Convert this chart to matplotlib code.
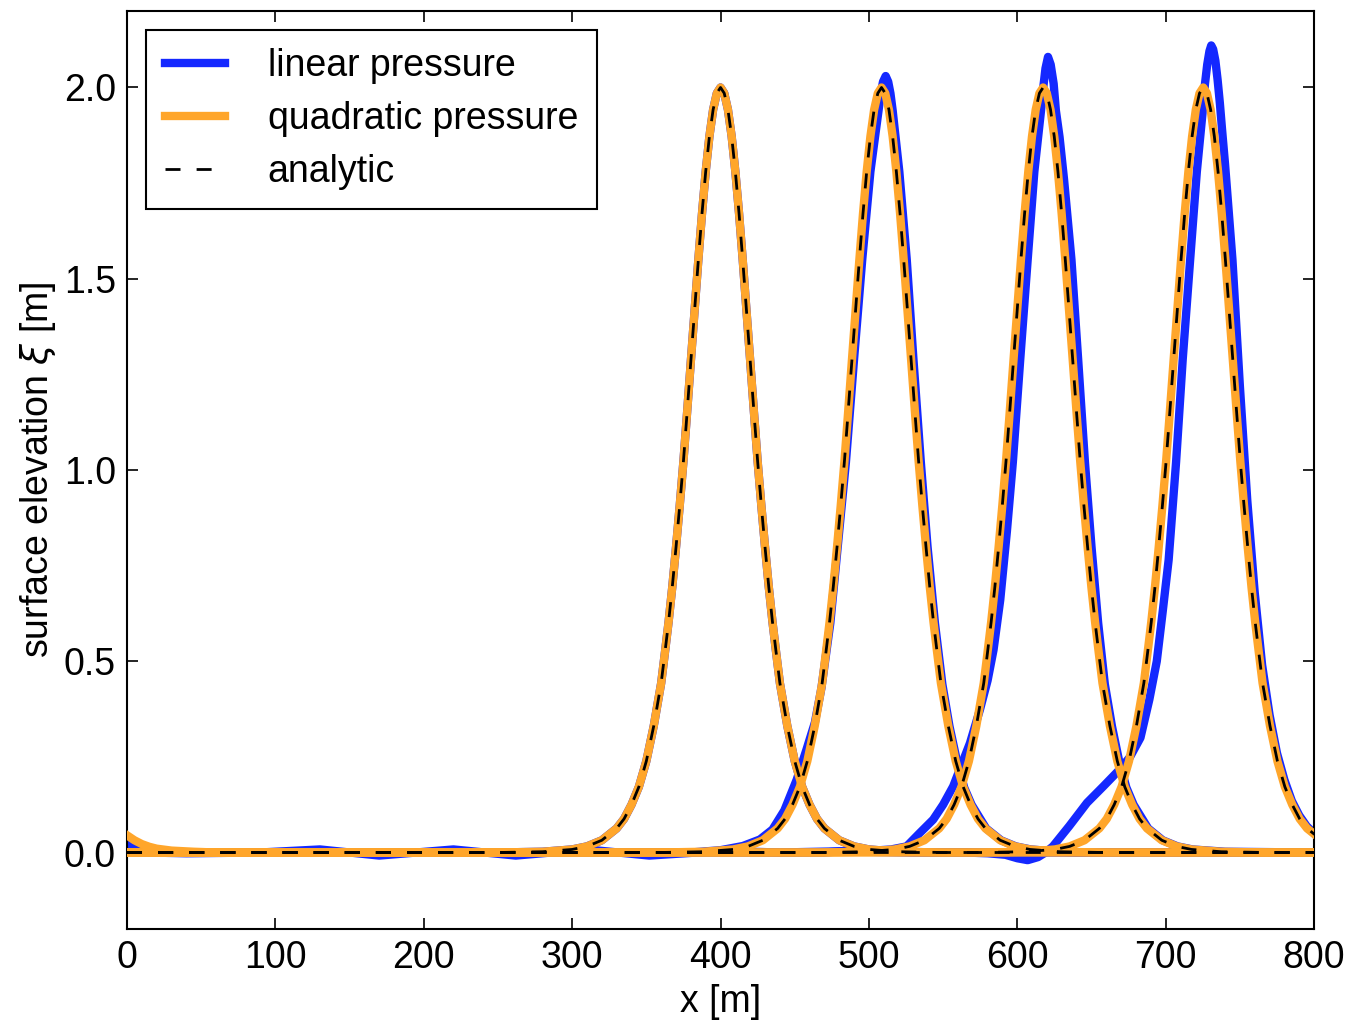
import numpy as np
import matplotlib
matplotlib.use("Agg")
import matplotlib.pyplot as plt

# ---------------- data ----------------
# solitary-wave profile (offset from crest [m], elevation [m]) – analytic / quadratic pressure
PROFILE_DX = [0, 2.5, 5, 7.5, 10, 12.5, 15, 17.5, 20, 22.5, 25, 27.5, 30, 32.5, 35,
              37.5, 40, 45, 50, 55, 60, 65, 70, 80, 90, 100, 120, 150]
PROFILE_Y = [2.000, 1.985, 1.942, 1.872, 1.780, 1.670, 1.547, 1.416, 1.285, 1.152, 1.023,
             0.907, 0.798, 0.695, 0.603, 0.522, 0.443, 0.331, 0.239, 0.172, 0.125, 0.088,
             0.063, 0.032, 0.016, 0.008, 0.002, 0.0]
# crest positions of the four snapshots
CENTERS = [400.0, 508.5, 617.4, 725.3]

# quadratic pressure: periodic tail of last snapshot re-entering at left edge
QUAD_WRAP_X = [0, 5, 10, 15, 20, 30, 45, 60]
QUAD_WRAP_Y = [0.045, 0.032, 0.022, 0.015, 0.010, 0.005, 0.002, 0.0]

# linear pressure snapshots 2..4 (snapshot 1 identical to initial condition)
LIN2_X = [0, 380, 400, 415, 426.5, 435, 443, 451.3, 458, 463.6, 468, 474, 478.5, 484.5, 490,
          495.5, 501, 506.5, 508, 509.5, 511.3, 513, 514.5, 516, 520.5, 525.5, 530, 535, 539.5,
          544.5, 549.5, 554.3, 559.3, 564.2, 569.2, 579, 589, 599, 609, 625, 640, 800]
LIN2_Y = [0, 0, 0.006, 0.017, 0.034, 0.06, 0.11, 0.19, 0.27, 0.34, 0.43, 0.60, 0.78, 1.02, 1.29,
          1.55, 1.78, 1.94, 1.985, 2.015, 2.03, 2.015, 1.985, 1.94, 1.78, 1.55, 1.29, 1.02, 0.80,
          0.60, 0.44, 0.33, 0.24, 0.17, 0.125, 0.063, 0.032, 0.016, 0.008, 0.003, 0, 0]

LIN3_X = [0, 470, 490, 500, 515, 525.4, 534, 543.3, 550, 556.8, 562, 568.1, 574.8, 580, 584,
          588.5, 593, 597, 602, 607, 611.5, 616, 617.5, 619, 620.7, 622.5, 624.5, 626, 628.5,
          631.5, 636.5, 641, 645.6, 650, 654.5, 659, 663.8, 668.6, 673.5, 678.4, 688.2, 698,
          708, 718, 740, 800]
LIN3_Y = [0, 0, 0.006, 0.004, 0.008, 0.016, 0.05, 0.086, 0.125, 0.173, 0.225, 0.286, 0.373, 0.45,
          0.53, 0.66, 0.84, 1.02, 1.29, 1.55, 1.78, 1.94, 2.00, 2.05, 2.08, 2.06, 2.01, 1.94, 1.87,
          1.76, 1.55, 1.29, 1.02, 0.80, 0.60, 0.44, 0.33, 0.24, 0.17, 0.125, 0.063, 0.032,
          0.016, 0.008, 0.002, 0]

LIN4_X = [0, 8, 15, 40, 90, 130, 170, 220, 262, 310, 352, 400, 440, 480, 530, 565, 580, 592,
          600, 607, 614, 619, 624, 635, 647, 658, 669, 676, 683, 689, 694, 698, 702, 707, 711.5,
          716.5, 721, 725, 726.5, 728, 729.5, 730.7, 732, 733.5, 735, 736.5, 738, 740, 745, 750,
          755, 760, 765, 770, 775, 780, 785, 790, 795, 800]
LIN4_Y = [0.025, 0.01, 0.0, -0.002, 0.0, 0.008, -0.008, 0.008, -0.008, 0.008, -0.008, 0.004,
          0.0, 0.003, 0.0, 0.0, -0.002, -0.006, -0.015, -0.02, -0.012, 0.0, 0.016, 0.069, 0.13,
          0.173, 0.217, 0.25, 0.30, 0.40, 0.50, 0.63, 0.765, 1.02, 1.29, 1.55, 1.78, 1.94, 2.01,
          2.06, 2.095, 2.11, 2.10, 2.07, 2.02, 1.96, 1.89, 1.80, 1.55, 1.22, 0.92, 0.68, 0.49,
          0.36, 0.26, 0.19, 0.135, 0.097, 0.069, 0.05]

X_TICKS = [0, 100, 200, 300, 400, 500, 600, 700, 800]
Y_TICKS = [0.0, 0.5, 1.0, 1.5, 2.0]

BLUE = '#1428ff'
ORANGE = '#ffa62b'
FS = 27

# ---------------- helpers ----------------
dx = np.array(PROFILE_DX)
py = np.array(PROFILE_Y)


def profile(center):
    x = np.concatenate([[0.0], center - dx[::-1], center + dx[1:], [max(800.0, center + dx[-1])]])
    y = np.concatenate([[0.0], py[::-1], py[1:], [0.0]])
    return x, y


plt.rcParams['font.family'] = ['Liberation Sans', 'DejaVu Sans']
plt.rcParams['mathtext.fontset'] = 'dejavusans'

fig = plt.figure(figsize=(13.54, 10.28), dpi=100)
ax = fig.add_axes([0.0938, 0.0963, 0.8767, 0.893])

LW = 6.0
# linear pressure
x, y = profile(CENTERS[0])
ax.plot(x, y, color=BLUE, lw=LW, label='linear pressure', zorder=2)
ax.plot(LIN2_X, LIN2_Y, color=BLUE, lw=LW, zorder=2)
ax.plot(LIN3_X, LIN3_Y, color=BLUE, lw=LW, zorder=2)
ax.plot(LIN4_X, LIN4_Y, color=BLUE, lw=LW, zorder=2)

# quadratic pressure
for i, c in enumerate(CENTERS):
    x, y = profile(c)
    ax.plot(x, y, color=ORANGE, lw=LW, label='quadratic pressure' if i == 0 else None, zorder=3)
ax.plot(QUAD_WRAP_X, QUAD_WRAP_Y, color=ORANGE, lw=LW, zorder=3)

# analytic
for i, c in enumerate(CENTERS):
    x, y = profile(c)
    ax.plot(x, y, color='black', lw=2.0, ls=(0, (5.4, 5.8)),
            label='analytic' if i == 0 else None, zorder=4)

ax.set_xlim(0, 800)
ax.set_ylim(-0.2, 2.2)
ax.set_xticks(X_TICKS)
ax.set_yticks(Y_TICKS)
ax.tick_params(direction='in', length=8, width=1.2, top=True, right=True,
               labelsize=FS, pad=8)
for s in ax.spines.values():
    s.set_linewidth(1.5)

ax.set_xlabel('x [m]', fontsize=FS, labelpad=6)
ax.set_ylabel(r'surface elevation $\xi$ [m]', fontsize=FS, labelpad=4)

leg = ax.legend(loc='upper left', fontsize=FS, frameon=True, fancybox=False,
                edgecolor='black', framealpha=1.0, borderaxespad=0.5,
                handlelength=1.6, handletextpad=1.15, labelspacing=0.45,
                borderpad=0.5)
leg.get_frame().set_linewidth(1.5)

fig.savefig('out.png', dpi=100)
